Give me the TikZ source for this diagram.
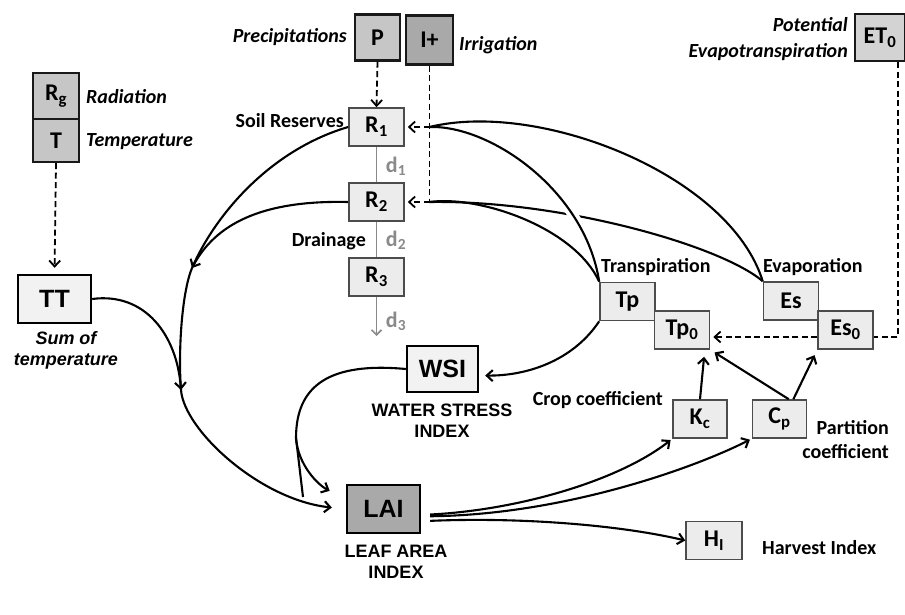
\documentclass[tikz,border=0pt]{standalone}
\usepackage{fontspec}
\setmainfont{Carlito}
\newfontfamily\arialf{Liberation Sans}
\usetikzlibrary{arrows.meta,calc}
\definecolor{gA}{HTML}{C6C6C6}
\definecolor{gB}{HTML}{A9A9A9}
\definecolor{gC}{HTML}{D3D3D3}
\definecolor{gL}{HTML}{ECECEC}
\definecolor{gT}{HTML}{F2F2F2}
\definecolor{dgray}{HTML}{8A8A8A}
\begin{document}
\begin{tikzpicture}[x=1pt,y=-1pt,
  gbox/.style={draw=black!90, line width=2.4pt, inner sep=0pt, font=\fontsize{24}{24}\selectfont\bfseries},
  abox/.style={draw=black, line width=2.4pt, inner sep=0pt, fill=gT, font=\arialf\fontsize{25}{25}\selectfont\bfseries},
  lbox/.style={draw=black!70, line width=1.6pt, fill=gL, minimum width=55pt, minimum height=38pt, inner sep=0pt, font=\fontsize{24}{24}\selectfont\bfseries},
  lab/.style={inner sep=0pt, font=\fontsize{20}{24}\selectfont\bfseries},
  ilab/.style={inner sep=0pt, font=\fontsize{20}{26}\selectfont\bfseries\itshape},
  alab/.style={inner sep=0pt, align=center, font=\arialf\fontsize{18}{21}\selectfont\bfseries},
  dlab/.style={inner sep=0pt, text=dgray, font=\fontsize{22}{22}\selectfont\bfseries},
  conn/.style={line width=2.1pt},
  tip/.style={-{Straight Barb[length=6pt,width=11pt]}},
  dsh/.style={line width=1.8pt, dash pattern=on 6pt off 3.5pt},
  gline/.style={draw=dgray, line width=1.6pt}
]
\useasboundingbox[fill=white] (0,0) rectangle (905,615);

% ---- boxes ----
\node[gbox, fill=gA, minimum width=45pt, minimum height=46pt] (P) at (377.5,37.5) {P};
\node[gbox, fill=gB, minimum width=47pt, minimum height=49pt] (Ip) at (429.5,40) {I+};
\node[gbox, fill=gC, minimum width=50pt, minimum height=47pt] (ET) at (880,37.5) {ET\textsubscript{0}};
\node[gbox, fill=gA, minimum width=46pt, minimum height=46pt] (Rg) at (56,96) {R\textsubscript{g}};
\node[gbox, fill=gA, minimum width=46pt, minimum height=43pt] (T) at (56,140.5) {T};
\node[abox, minimum width=73pt, minimum height=48pt] (TT) at (54.5,299) {TT};
\node[abox, minimum width=71pt, minimum height=46pt] (WSI) at (442.5,369) {WSI};
\node[abox, fill=gB, minimum width=73pt, minimum height=48pt] (LAI) at (383.5,509) {LAI};

\node[lbox] (R1) at (376.5,127) {R\textsubscript{1}};
\node[lbox] (R2) at (376.5,202) {R\textsubscript{2}};
\node[lbox] (R3) at (376.5,277) {R\textsubscript{3}};
\node[lbox] (Tp) at (627.5,301.5) {Tp};
\node[lbox] (Tp0) at (682,330) {Tp\textsubscript{0}};
\node[lbox] (Es) at (791,301) {Es};
\node[lbox] (Es0) at (845.5,330) {Es\textsubscript{0}};
\node[lbox, minimum width=54pt] (Kc) at (700,419) {K\textsubscript{c}};
\node[lbox, minimum width=54pt] (Cp) at (779.5,419) {C\textsubscript{p}};
\node[lbox, minimum width=56pt] (HI) at (714,540.5) {H\textsubscript{I}};

% ---- labels ----
\node[ilab, anchor=east] (lP) at (347,37) {Precipitations};
\node[ilab, anchor=west] (lI) at (459,45) {Irrigation};
\node[ilab, anchor=east, align=right] (lET) at (848,39) {Potential\\Evapotranspiration};
\node[ilab, anchor=west] (lRg) at (86,97) {Radiation};
\node[ilab, anchor=west] (lT) at (86,142) {Temperature};
\node[lab, anchor=east] (lSR) at (344,121) {Soil Reserves};
\node[lab, anchor=east] (lDr) at (366,241) {Drainage};
\node[dlab] (d1) at (396,166) {d\textsubscript{1}};
\node[dlab] (d2) at (396,240) {d\textsubscript{2}};
\node[dlab] (d3) at (396,321) {d\textsubscript{3}};
\node[lab, anchor=west] (lTp) at (601,267) {Transpiration};
\node[lab, anchor=west] (lEs) at (763,267) {Evaporation};
\node[lab, anchor=east] (lKc) at (663,400) {Crop coefficient};
\node[lab, anchor=east, align=right] (lCp) at (889,440) {Partition\\coefficient};
\node[lab, anchor=west] (lHI) at (762,548) {Harvest Index};
\node[alab, font=\arialf\fontsize{18}{21}\selectfont\bfseries\itshape] (lTT) at (66,350) {Sum of\\temperature};
\node[alab] (lWSI) at (442,421) {WATER STRESS\\INDEX};
\node[alab] (lLAI) at (396,562) {LEAF AREA\\INDEX};

% ---- soil column ----
\draw[gline] (R1.south) -- (R2.north);
\draw[gline] (R2.south) -- (R3.north);
\coordinate (dr) at (376.5,336);
\draw[gline, -{Straight Barb[length=5pt,width=10pt]}] (R3.south) -- (dr);

% ---- dashed inputs ----
\draw[dsh, tip] (P.south) -- (R1.north);
\draw[dsh, tip, shorten >=6pt] (T.south) -- (TT.north);
\coordinate (j1) at (Ip.south |- R1.east);
\coordinate (j2) at (Ip.south |- R2.east);
\draw[dsh] (Ip.south) -- (j2);
\draw[dsh, tip, shorten >=3pt] (j2) -- (R2.east);
\draw[dsh, tip, shorten >=3pt] (j1) -- (R1.east);
\coordinate (e1) at (898,337);
\draw[dsh] (e1 |- ET.south) -- (e1) -- (e1 -| Es0.east);
\draw[dsh, tip, shorten >=3pt] (e1 -| Es0.west) -- (e1 -| Tp0.east);

% ---- transpiration / evaporation to reserves ----
\draw[conn] (Es.north west) .. controls (720,245) and (560,200) .. (j2);
\begin{scope}
  \clip (548,196) rectangle (584,220);
  \draw[white, line width=10pt] (Tp.north west) .. controls (585,190) and (490,125) .. (j1);
\end{scope}
\draw[conn] (Tp.north west) .. controls (585,190) and (490,125) .. (j1);
\draw[conn] (Es.north west) .. controls (730,175) and (540,100) .. (j1);
\draw[conn] (Tp.north west) .. controls (575,228) and (480,195) .. (j2);

% ---- to WSI ----
\draw[conn, tip, shorten >=6pt] (Tp.south west) .. controls (572,362) and (525,376) .. (WSI.-10);

% ---- main flow to LAI ----
\coordinate (m1) at (192,268);
\coordinate (m2) at (181,390);
\draw[conn] (R1.west) .. controls (270,150) and (215,215) .. (m1);
\draw[conn, tip] (R2.west) .. controls (260,200) and (215,225) .. (m1);
\draw[conn] (m1) .. controls (182,292) and (178,350) .. (m2);
\draw[conn, tip] (TT.east) .. controls (145,292) and (177,335) .. (m2);
\draw[conn, tip, shorten >=14pt] (m2) .. controls (184,430) and (260,500) .. (LAI.west);

% ---- WSI to LAI ----
\coordinate (wb) at (296,438);
\coordinate (wt) at (303,497);
\draw[conn] (WSI.west) .. controls (330,362) and (296,385) .. (wb);
\draw[conn, tip, shorten >=18pt] (wb) .. controls (298,465) and (318,485) .. (LAI.165);
\draw[conn] (wb) -- (wt);

% ---- from LAI ----
\draw[conn, tip, shorten <=9pt, shorten >=2pt] (LAI.-9) .. controls (520,510) and (620,480) .. (Kc.south west);
\draw[conn, tip, shorten <=9pt, shorten >=2pt] (LAI.-11) .. controls (560,515) and (690,470) .. (Cp.south west);
\draw[conn, tip, shorten <=9pt] (LAI.-18) .. controls (520,517) and (620,525) .. (HI.west);

% ---- coefficients to potential ----
\draw[conn, tip, shorten >=7pt] (Kc.north) -- (Tp0.-41);
\draw[conn, tip, shorten >=5pt] (Cp.65) -- (Tp0.south east);
\draw[conn, tip, shorten >=6pt] (Cp.55) -- (Es0.south west);
\end{tikzpicture}
\end{document}
